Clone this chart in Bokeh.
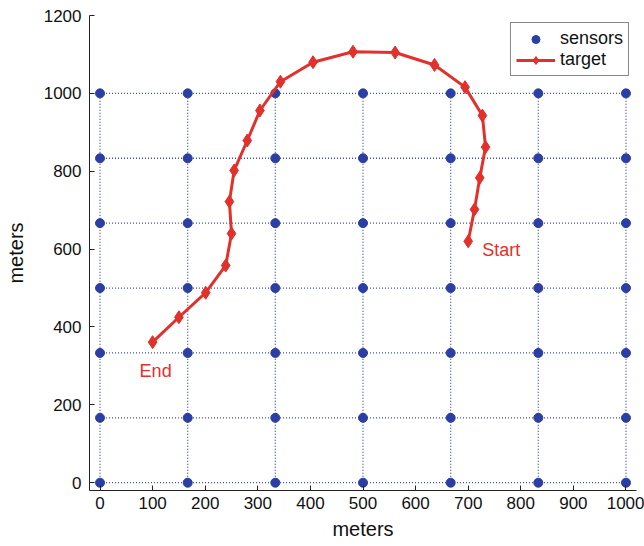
from bokeh.plotting import figure
from bokeh.models import Range1d, FixedTicker, Legend, LegendItem
from bokeh.core.properties import value
from bokeh.embed import file_html
from bokeh.resources import INLINE

# sensor grid positions (meters)
sensor_levels = [0, 166.7, 333.3, 500, 666.7, 833.3, 1000]
sensor_x = [x for y in sensor_levels for x in sensor_levels]
sensor_y = [y for y in sensor_levels for x in sensor_levels]

# target trajectory (Start -> End)
target_x = [700, 712, 722, 733, 727, 694, 636, 561, 481, 405, 343, 304, 280, 255, 246, 250, 239, 201, 150, 100]
target_y = [620, 702, 783, 862, 943, 1016, 1073, 1105, 1107, 1080, 1030, 956, 879, 802, 722, 640, 558, 488, 425, 361]

x_ticks = [0, 100, 200, 300, 400, 500, 600, 700, 800, 900, 1000]
y_ticks = [0, 200, 400, 600, 800, 1000, 1200]

FONT = "Liberation Sans"
BLUE = "#2b3ea3"
GRID = "#3f52c0"
RED = "#e2302b"

p = figure(width=644, height=546, frame_width=547, frame_height=475,
           min_border_left=89, min_border_right=8, min_border_top=15, min_border_bottom=56,
           x_range=Range1d(-20, 1020), y_range=Range1d(-20, 1200),
           output_backend="svg", toolbar_location=None)
p.outline_line_color = None
p.grid.visible = False

# dotted lines through sensor rows and columns
lo, hi = sensor_levels[0], sensor_levels[-1]
p.multi_line(xs=[[lo, hi] for _ in sensor_levels], ys=[[v, v] for v in sensor_levels],
             line_color=GRID, line_width=1.3, line_dash="1 2")
p.multi_line(xs=[[v, v] for v in sensor_levels], ys=[[lo, hi] for _ in sensor_levels],
             line_color=GRID, line_width=1.3, line_dash="1 2")

sens = p.scatter(sensor_x, sensor_y, marker="circle", size=9, fill_color=BLUE, line_color=BLUE)
tl = p.line(target_x, target_y, line_color=RED, line_width=3)
tm = p.scatter(target_x, target_y, marker="diamond", size=13, fill_color=RED, line_color=RED)

p.text(x=[target_x[0]], y=[target_y[0]], text=["Start"], text_color=RED,
       text_font=value(FONT), text_font_size="18px", text_baseline="middle", text_align="left",
       x_offset=14, y_offset=9)
p.text(x=[target_x[-1]], y=[target_y[-1]], text=["End"], text_color=RED,
       text_font=value(FONT), text_font_size="18px", text_baseline="middle", text_align="left",
       x_offset=-13, y_offset=29)

for ax, ticks in ((p.xaxis[0], x_ticks), (p.yaxis[0], y_ticks)):
    ax.ticker = FixedTicker(ticks=ticks)
    ax.major_tick_in = 5
    ax.major_tick_out = 0
    ax.minor_tick_in = 0
    ax.minor_tick_out = 0
    ax.axis_line_color = "#222222"
    ax.major_tick_line_color = "#222222"
    ax.major_label_text_font = FONT
    ax.major_label_text_font_size = "17px"
    ax.major_label_text_color = "#111111"
    ax.axis_label = "meters"
    ax.axis_label_text_font = FONT
    ax.axis_label_text_font_size = "20px"
    ax.axis_label_text_font_style = "normal"
    ax.axis_label_text_color = "#111111"

p.xaxis.major_label_standoff = 6
p.xaxis.axis_label_standoff = 6
p.yaxis.major_label_standoff = 8
p.yaxis.axis_label_standoff = 14

legend = Legend(items=[LegendItem(label="sensors", renderers=[sens]),
                       LegendItem(label="target", renderers=[tl, tm])],
                location="top_right", margin=7, padding=5, spacing=0,
                glyph_width=39, glyph_height=20, label_height=20, label_standoff=5,
                label_text_font=FONT, label_text_font_size="18px", label_text_color="#111111",
                border_line_color="#111111", border_line_width=1,
                background_fill_alpha=1.0)
p.add_layout(legend)

open("out.html", "w").write(file_html(p, INLINE))
